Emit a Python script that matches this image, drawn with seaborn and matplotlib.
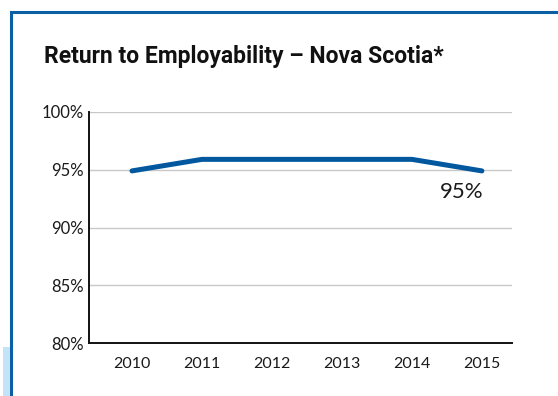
import pandas as pd
import matplotlib.pyplot as plt
import matplotlib.patches as mpatches
from matplotlib.ticker import FuncFormatter
import seaborn as sns

years = [2010, 2011, 2012, 2013, 2014, 2015]
rate = [94.9, 95.9, 95.9, 95.9, 95.9, 94.9]
yticks = [80, 85, 90, 95, 100]
title = "Return to Employability \u2013 Nova Scotia*"
end_label = "95%"

df = pd.DataFrame({"year": years, "rate": rate})

sns.set_theme(style="white")
plt.rcParams['font.family'] = ['Lato', 'DejaVu Sans']

fig = plt.figure(figsize=(5.58, 3.96), dpi=100)
ax = fig.add_axes([89 / 558, 1 - 343 / 396, (512 - 89) / 558, (343 - 112) / 396])

sns.lineplot(data=df, x="year", y="rate", ax=ax, color="#02589e",
             linewidth=3.6, solid_capstyle="round", solid_joinstyle="miter")

ax.set_ylim(80, 100)
ax.set_xlim(2009.386, 2015.43)
ax.set_yticks(yticks)
ax.yaxis.set_major_formatter(FuncFormatter(lambda v, p: f"{v:.0f}%"))
ax.set_xticks(years)
ax.set_xticklabels([str(y) for y in years])
ax.tick_params(axis="y", length=0, labelsize=12, colors="#1a1a1a", pad=4)
ax.tick_params(axis="x", length=0, labelsize=11.5, colors="#1a1a1a", pad=10)
ax.set_xlabel("")
ax.set_ylabel("")

# light horizontal gridlines
for y in yticks[1:]:
    ax.axhline(y, color="#c8c8c8", linewidth=1.0, zorder=0)

for s in ["top", "right"]:
    ax.spines[s].set_visible(False)
for s in ["left", "bottom"]:
    ax.spines[s].set_color("#111111")
    ax.spines[s].set_linewidth(1.4)

ax.text(years[-1] - 0.29, rate[-1] - 0.95, end_label, ha="center", va="top",
        fontsize=16, color="#1a1a1a")

fig.text(44 / 558, 1 - 56 / 396, title, ha="left", va="center",
         fontsize=16.5, fontweight="bold", color="#111111",
         family=['Roboto', 'DejaVu Sans'])

# frame and side strip
fig.patches.append(mpatches.Rectangle((11 / 558, -0.1), 1.2, 1 - 12 / 396 + 0.1,
                                      transform=fig.transFigure, fill=False,
                                      edgecolor="#0b5fa5", linewidth=2.2))
fig.patches.append(mpatches.Rectangle((3 / 558, 0), 7 / 558, 49 / 396,
                                      transform=fig.transFigure, facecolor="#c2e3f8",
                                      edgecolor="none"))

plt.savefig("out.png", dpi=100)
